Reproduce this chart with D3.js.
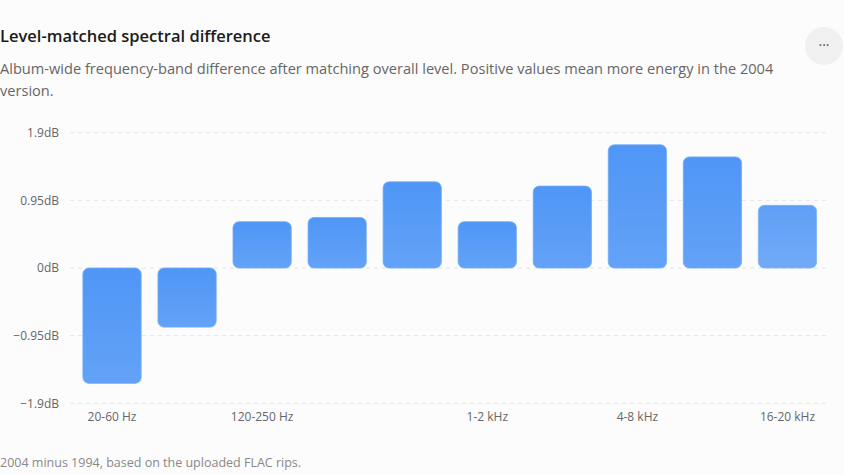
<!DOCTYPE html>
<html><head><meta charset="utf-8">
<script src="https://cdn.jsdelivr.net/npm/d3@7"></script>
<style>
html,body{margin:0;padding:0;background:#fcfcfc;}
svg{display:block;}
</style></head>
<body>
<svg id="chart" width="844" height="475"></svg>
<script>
const categories = ["20-60 Hz","60-120 Hz","120-250 Hz","250-500 Hz","500-1k Hz","1-2 kHz","2-4 kHz","4-8 kHz","8-16 kHz","16-20 kHz"];
const values = [-1.62, -0.83, 0.65, 0.71, 1.21, 0.65, 1.15, 1.73, 1.56, 0.88];
const shownTicks = ["20-60 Hz","120-250 Hz","1-2 kHz","4-8 kHz","16-20 kHz"];
const yTicks = [-1.9, -0.95, 0, 0.95, 1.9];
const title = "Level-matched spectral difference";
const subtitleLines = ["Album-wide frequency-band difference after matching overall level. Positive values mean more energy in the 2004", "version."];
const footnote = "2004 minus 1994, based on the uploaded FLAC rips.";

const font = "'Open Sans', 'Noto Sans', sans-serif";
const svg = d3.select("#chart").style("font-family", font);

svg.append("rect").attr("width",844).attr("height",475).attr("fill","#fcfcfc");

// header
svg.append("text").attr("x",0).attr("y",42).attr("font-size",16.5).attr("font-weight",600)
  .attr("fill","#1b1b1b").text(title);
const sub = svg.append("text").attr("x",0).attr("y",74).attr("font-size",14.6).attr("fill","#666");
subtitleLines.forEach((l,i)=> sub.append("tspan").attr("x",0).attr("dy", i===0?0:22).text(l));

// menu button
svg.append("circle").attr("cx",824).attr("cy",46).attr("r",19).attr("fill","#f0f0f0");
svg.append("text").attr("x",824).attr("y",50).attr("text-anchor","middle").attr("font-size",14)
  .attr("fill","#555").text("···");

const x = d3.scaleBand().domain(categories).range([74.5, 825]).paddingInner(0.224).paddingOuter(0.112);
const y = d3.scaleLinear().domain([-1.9, 1.9]).range([403.3, 132.7]);

// gridlines
svg.append("g").selectAll("line").data(yTicks).join("line")
  .attr("x1",70).attr("x2",830).attr("y1",d=>y(d)).attr("y2",d=>y(d))
  .attr("stroke","#e4e4e4").attr("stroke-dasharray","4 4").attr("stroke-width",1);

// y axis
const yAxis = d3.axisLeft(y).tickValues(yTicks).tickSize(0).tickPadding(0)
  .tickFormat(d => d3.format("~g")(d) + "dB");
const gy = svg.append("g").attr("transform","translate(59,0)").call(yAxis);
gy.select(".domain").remove();
gy.selectAll("text").attr("font-size",12).attr("fill","#666").attr("font-family",font);

// x axis
const xAxis = d3.axisBottom(x).tickValues(shownTicks).tickSize(0).tickPadding(0);
const gx = svg.append("g").attr("transform","translate(0,412)").call(xAxis);
gx.select(".domain").remove();
gx.selectAll("text").attr("font-size",12).attr("fill","#666").attr("font-family",font);

// gradient
const defs = svg.append("defs");
const grad = defs.append("linearGradient").attr("id","barGrad").attr("x1",0).attr("y1",0).attr("x2",0).attr("y2",1);
grad.append("stop").attr("offset","0%").attr("stop-color","#4f96f6");
grad.append("stop").attr("offset","100%").attr("stop-color","#63a2f7");

svg.append("g").selectAll("rect").data(values).join("rect")
  .attr("x",(d,i)=>x(categories[i]))
  .attr("width",x.bandwidth())
  .attr("y",d=>Math.min(y(d),y(0)))
  .attr("height",d=>Math.abs(y(d)-y(0)))
  .attr("rx",6).attr("ry",6)
  .attr("fill","url(#barGrad)")
  .attr("stroke","#6eabf8").attr("stroke-width",0.8)
  .attr("opacity",(d,i)=> i===categories.length-1 ? 0.9 : 1);

// footnote
svg.append("text").attr("x",0).attr("y",467).attr("font-size",12.5).attr("fill","#888").text(footnote);
</script>
</body></html>
